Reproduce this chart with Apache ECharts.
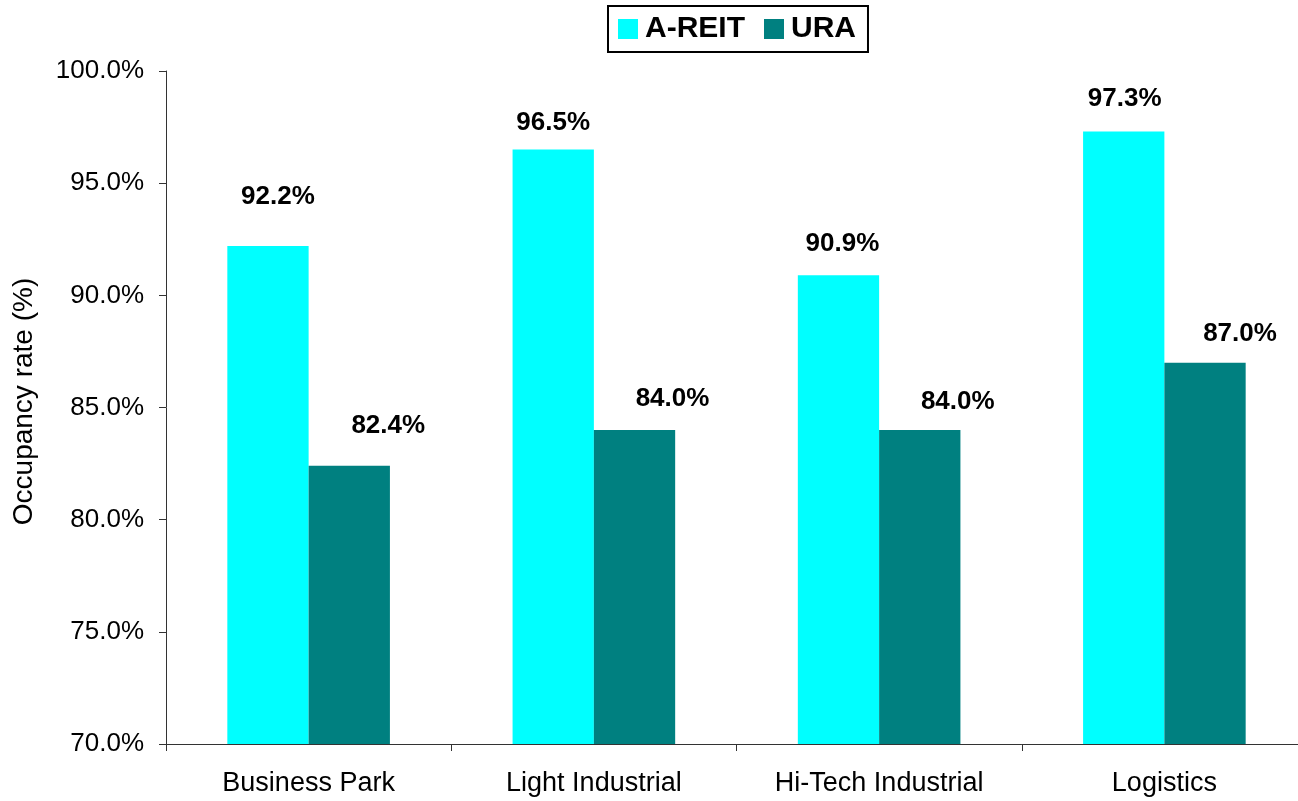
<!DOCTYPE html>
<html>
<head>
<meta charset="utf-8">
<script src="https://cdn.jsdelivr.net/npm/echarts@6/dist/echarts.min.js"></script>
<style>
html,body{margin:0;padding:0;background:#fff;overflow:hidden;width:1298px;height:801px;}
#chart{width:1310px;height:801px;}
</style>
</head>
<body>
<div id="chart"></div>
<script>
// ---- data ----
const categories = ['Business Park', 'Light Industrial', 'Hi-Tech Industrial', 'Logistics'];
const areitValues = [92.2, 96.5, 90.9, 97.3];
const uraValues = [82.4, 84.0, 84.0, 87.0];
const seriesNames = ['A-REIT', 'URA'];
const yTicks = { min: 70, max: 100, interval: 5 };

// ---- layout (label placement as in the original, relative to bar top centre) ----
const areitLabelOffsets = [[10, -49], [0, -27], [4, -31], [1, -33]];
const uraLabelOffsets = [[39, -40], [38, -31], [38, -28], [35, -29]];

const FONT = '"Liberation Sans", Arial, sans-serif';

function buildData(values, offsets) {
  return values.map((v, i) => ({
    value: v,
    label: { offset: offsets[i] }
  }));
}

const labelStyle = {
  show: true,
  position: ['50%', 0],
  align: 'center',
  verticalAlign: 'middle',
  fontFamily: FONT,
  fontWeight: 'bold',
  fontSize: 26,
  color: '#000',
  formatter: p => p.value.toFixed(1) + '%'
};

const chart = echarts.init(document.getElementById('chart'), null, { renderer: 'canvas' });
chart.setOption({
  animation: false,
  backgroundColor: '#fff',
  legend: {
    data: seriesNames,
    left: 608,
    top: 6,
    padding: [8, 12, 8, 10],
    itemGap: 19,
    itemWidth: 20,
    itemHeight: 20,
    icon: 'rect',
    borderColor: '#000',
    borderWidth: 2,
    backgroundColor: '#fff',
    textStyle: { fontFamily: FONT, fontWeight: 'bold', fontSize: 30, color: '#000', padding: [0, 0, 0, 2] }
  },
  grid: { left: 166, right: 3, top: 71, bottom: 57, containLabel: false },
  xAxis: {
    type: 'category',
    data: categories,
    axisLine: { lineStyle: { color: '#333', width: 1 } },
    axisTick: { show: true, length: 7, lineStyle: { color: '#333' } },
    axisLabel: { margin: 26, fontFamily: FONT, fontSize: 27, color: '#000' }
  },
  yAxis: {
    type: 'value',
    min: yTicks.min,
    max: yTicks.max,
    interval: yTicks.interval,
    name: 'Occupancy rate (%)',
    nameLocation: 'middle',
    nameGap: 128,
    nameTextStyle: { fontFamily: FONT, fontSize: 28, color: '#000', padding: [0, 0, 0, 12] },
    axisLine: { show: true, lineStyle: { color: '#333', width: 1 } },
    axisTick: { show: true, length: 7, lineStyle: { color: '#333' } },
    splitLine: { show: false },
    axisLabel: {
      margin: 22,
      fontFamily: FONT, fontSize: 26, color: '#000',
      formatter: v => v.toFixed(1) + '%'
    }
  },
  series: [
    {
      name: seriesNames[0],
      type: 'bar',
      data: buildData(areitValues, areitLabelOffsets),
      itemStyle: { color: '#00FFFF' },
      barGap: '0%',
      barCategoryGap: '43%',
      label: labelStyle
    },
    {
      name: seriesNames[1],
      type: 'bar',
      data: buildData(uraValues, uraLabelOffsets),
      itemStyle: { color: '#008080' },
      barGap: '0%',
      barCategoryGap: '43%',
      label: labelStyle
    }
  ]
});
</script>
</body>
</html>
